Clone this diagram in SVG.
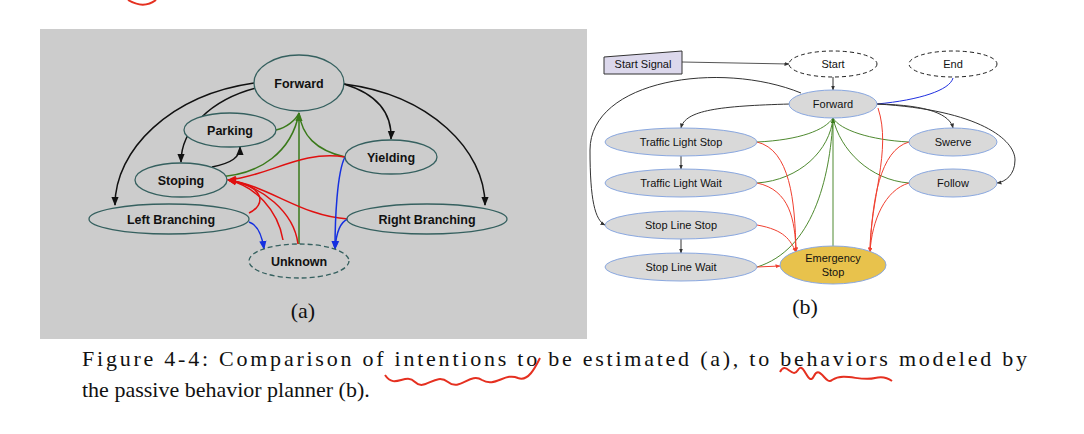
<svg xmlns="http://www.w3.org/2000/svg" width="1084" height="434" viewBox="0 0 1084 434">
<style>
.na{fill:#cccccc;stroke:#35605f;stroke-width:1.3}
.ta{font-family:"Liberation Sans",Arial,sans-serif;font-weight:bold;font-size:12.5px;fill:#111;text-anchor:middle}
.nb{fill:#d9d9d9;stroke:#8aa8e0;stroke-width:1}
.tb{font-family:"Liberation Sans",Arial,sans-serif;font-size:11px;fill:#111;text-anchor:middle}
.cap{font-family:"Liberation Serif","Times New Roman",serif;font-size:22px;fill:#111}
.c{fill:none;stroke-width:1.5}
.d{fill:none;stroke-width:1}
.k{stroke:#111}.g{stroke:#3a7a1a}.r{stroke:#e01010}.bl{stroke:#1530e0}
.rb{stroke:#f04030}.gb{stroke:#4f8a30}
</style>
<defs>
<marker id="ak" viewBox="0 0 10 10" refX="9" refY="5" markerWidth="6" markerHeight="6" orient="auto"><path d="M0,1L10,5L0,9z" fill="#111"/></marker>
<marker id="ag" viewBox="0 0 10 10" refX="9" refY="5" markerWidth="6" markerHeight="6" orient="auto"><path d="M0,1L10,5L0,9z" fill="#3a7a1a"/></marker>
<marker id="ar" viewBox="0 0 10 10" refX="9" refY="5" markerWidth="6" markerHeight="6" orient="auto"><path d="M0,1L10,5L0,9z" fill="#e01010"/></marker>
<marker id="ab" viewBox="0 0 10 10" refX="9" refY="5" markerWidth="6" markerHeight="6" orient="auto"><path d="M0,1L10,5L0,9z" fill="#1530e0"/></marker>
<marker id="ak2" viewBox="0 0 10 10" refX="9" refY="5" markerWidth="5" markerHeight="5" orient="auto"><path d="M0,1L10,5L0,9z" fill="#333"/></marker>
<marker id="ar2" viewBox="0 0 10 10" refX="9" refY="5" markerWidth="5" markerHeight="5" orient="auto"><path d="M0,1L10,5L0,9z" fill="#f04030"/></marker>
</defs>
<rect width="1084" height="434" fill="#fff"/>
<path d="M128,0 C138,6 148,6 156,0" fill="none" stroke="#e53020" stroke-width="2"/>
<rect x="40" y="29" width="547" height="310" fill="#cccccc"/>

<g id="connectors">
<path class="c k" d="M254,83 C170,95 115,150 115,205" marker-end="url(#ak)"/>
<path class="c k" d="M256,88 C210,100 181,130 181,162" marker-end="url(#ak)"/>
<path class="c k" d="M344,84 C380,95 392,115 391,139" marker-end="url(#ak)"/>
<path class="c k" d="M344,84 C430,95 485,150 485,205" marker-end="url(#ak)"/>
<path class="c k" d="M212,167 C232,163 240,157 240,147" marker-end="url(#ak)"/>
<path class="c g" d="M214,177 C262,176 292,150 299,113"/>
<path class="c g" d="M276,130 C286,128 296,120 299,113"/>
<path class="c g" d="M345,157 C315,150 302,135 299,113"/>
<path class="c g" d="M299,244 L299,113" marker-end="url(#ag)"/>
<path class="c r" d="M345,157 C300,150 270,176 228,180" marker-end="url(#ar)"/>
<path class="c r" d="M348,219 C300,216 270,186 228,180" marker-end="url(#ar)"/>
<path class="c r" d="M298,244 C294,212 262,186 228,180" marker-end="url(#ar)"/>
<path class="c r" d="M283,240 C278,210 255,186 228,180" marker-end="url(#ar)"/>
<path class="c r" d="M249,213 C266,205 266,186 228,180" marker-end="url(#ar)"/>
<path class="c bl" d="M249,222 C258,225 262,235 264,249" marker-end="url(#ab)"/>
<path class="c bl" d="M345,157 C337,172 335,220 335,249" marker-end="url(#ab)"/>
<path class="c bl" d="M348,219 C340,222 336,235 335,249" marker-end="url(#ab)"/>

<path class="d" stroke="#555" d="M682,62 L789,64" marker-end="url(#ak2)"/>
<path class="d" stroke="#333" d="M833,77 L833,90" marker-end="url(#ak2)"/>
<path class="d" stroke="#2030e0" d="M877,104 C920,100 950,90 953,78"/>
<path class="d" stroke="#333" d="M801,93 C720,60 590,80 590,150 C590,200 595,220 605,225" marker-end="url(#ak2)"/>
<path class="d" stroke="#333" d="M790,104 C720,106 685,110 681,128" marker-end="url(#ak2)"/>
<path class="d" stroke="#333" d="M877,104 C930,105 950,115 953,128" marker-end="url(#ak2)"/>
<path class="d" stroke="#333" d="M877,104 C980,110 1015,140 1015,160 C1015,175 1005,182 997,183" marker-end="url(#ak2)"/>
<path class="d" stroke="#333" d="M681,156 L681,169" marker-end="url(#ak2)"/>
<path class="d" stroke="#333" d="M681,239 L681,253" marker-end="url(#ak2)"/>
<path class="d gb" d="M757,142 C800,140 825,130 833,118"/>
<path class="d gb" d="M757,183 C800,180 830,150 833,118"/>
<path class="d gb" d="M757,267 C812,250 830,180 833,118"/>
<path class="d gb" d="M909,142 C870,140 840,130 833,118"/>
<path class="d gb" d="M909,183 C870,180 840,150 833,118"/>
<path class="d gb" d="M833,246 L833,118" marker-end="url(#ag)"/>
<path class="d rb" d="M757,142 C790,150 795,200 796,252" marker-end="url(#ar2)"/>
<path class="d rb" d="M757,183 C790,190 795,220 796,252" marker-end="url(#ar2)"/>
<path class="d rb" d="M757,225 C785,230 790,240 796,252" marker-end="url(#ar2)"/>
<path class="d rb" d="M757,267 L780,266" marker-end="url(#ar2)"/>
<path class="d rb" d="M878,108 C892,150 870,200 870,252" marker-end="url(#ar2)"/>
<path class="d rb" d="M909,142 C880,150 872,200 870,252" marker-end="url(#ar2)"/>
<path class="d rb" d="M909,183 C885,190 872,220 870,252" marker-end="url(#ar2)"/>
</g>

<g id="a-forward"><ellipse class="na" cx="299" cy="83" rx="45" ry="28"/><text class="ta" x="299" y="88">Forward</text></g>
<g id="a-parking"><ellipse class="na" cx="230" cy="130" rx="46" ry="17"/><text class="ta" x="230" y="135">Parking</text></g>
<g id="a-stoping"><ellipse class="na" cx="181" cy="180" rx="46" ry="17"/><text class="ta" x="181" y="185">Stoping</text></g>
<g id="a-yielding"><ellipse class="na" cx="391" cy="157" rx="46" ry="17"/><text class="ta" x="391" y="162">Yielding</text></g>
<g id="a-left"><ellipse class="na" cx="169" cy="219" rx="80" ry="15"/><text class="ta" x="171" y="224">Left Branching</text></g>
<g id="a-right"><ellipse class="na" cx="427" cy="219" rx="80" ry="15"/><text class="ta" x="427" y="224">Right Branching</text></g>
<g id="a-unknown"><ellipse class="na" cx="299" cy="261" rx="50" ry="17" stroke-dasharray="5,3"/><text class="ta" x="299" y="266">Unknown</text></g>
<text class="cap" x="303" y="318" text-anchor="middle" font-size="19">(a)</text>

<g id="b-signal"><polygon points="604,57 682,51 682,74 604,74" fill="#dcd8ec" stroke="#333" stroke-width="1"/><text class="tb" x="643" y="68">Start Signal</text></g>
<g id="b-start"><ellipse cx="833" cy="64" rx="44" ry="13" fill="#fff" stroke="#222" stroke-dasharray="4,3"/><text class="tb" x="833" y="68">Start</text></g>
<g id="b-end"><ellipse cx="953" cy="64" rx="44" ry="13" fill="#fff" stroke="#222" stroke-dasharray="4,3"/><text class="tb" x="953" y="68">End</text></g>
<g id="b-forward"><ellipse class="nb" cx="833" cy="104" rx="44" ry="14"/><text class="tb" x="833" y="108">Forward</text></g>
<g id="b-tls"><ellipse class="nb" cx="681" cy="142" rx="76" ry="14"/><text class="tb" x="681" y="146">Traffic Light Stop</text></g>
<g id="b-tlw"><ellipse class="nb" cx="681" cy="183" rx="76" ry="14"/><text class="tb" x="681" y="187">Traffic Light Wait</text></g>
<g id="b-sls"><ellipse class="nb" cx="681" cy="225" rx="76" ry="14"/><text class="tb" x="681" y="229">Stop Line Stop</text></g>
<g id="b-slw"><ellipse class="nb" cx="681" cy="267" rx="76" ry="14"/><text class="tb" x="681" y="271">Stop Line Wait</text></g>
<g id="b-swerve"><ellipse class="nb" cx="953" cy="142" rx="44" ry="14"/><text class="tb" x="953" y="146">Swerve</text></g>
<g id="b-follow"><ellipse class="nb" cx="953" cy="183" rx="44" ry="14"/><text class="tb" x="953" y="187">Follow</text></g>
<g id="b-emergency"><ellipse cx="833" cy="265" rx="53" ry="19" fill="#e8c24c" stroke="#8aa8e0"/><text class="tb" x="833" y="262">Emergency</text><text class="tb" x="833" y="276">Stop</text></g>
<text class="cap" x="805" y="314" text-anchor="middle" font-size="19">(b)</text>

<text class="cap" x="82" y="366" textLength="945" lengthAdjust="spacing">Figure 4-4: Comparison of intentions to be estimated (a), to behaviors modeled by</text>
<text class="cap" x="82" y="397">the passive behavior planner (b).</text>
<path d="M385,375 C395,390 405,372 415,382 C425,392 435,372 448,382 C460,392 470,372 482,380 C495,388 505,372 518,378 C528,382 535,368 540,358" fill="none" stroke="#e53020" stroke-width="2"/>
<path d="M780,372 C786,360 792,380 798,370 C804,360 808,388 814,376 C820,364 826,386 832,380 C845,372 860,382 875,378 C882,376 888,378 892,381" fill="none" stroke="#e53020" stroke-width="2"/>
</svg>
